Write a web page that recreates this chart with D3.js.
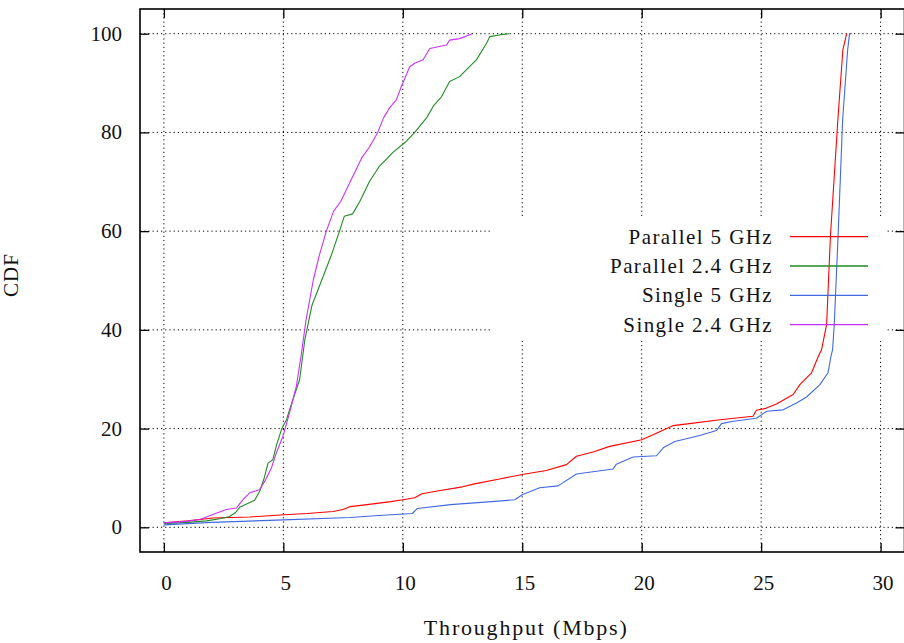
<!DOCTYPE html>
<html>
<head>
<meta charset="utf-8">
<script src="https://cdn.jsdelivr.net/npm/d3@7"></script>
<style>
  body { margin: 0; background: white; }
  text { font-family: "Liberation Serif", serif; fill: #111; }
</style>
</head>
<body>
<div id="wrapper"></div>
<script>
// values: [throughput (Mbps), CDF (%)]
const parallel5 = [
  [0, 0.9], [1, 1.3], [2.05, 1.9], [3.6, 2.1], [4.85, 2.5], [6, 2.8], [7.08, 3.2],
  [7.5, 3.6], [7.8, 4.2], [8.5, 4.6], [9.5, 5.2], [10, 5.6], [10.5, 6.0], [10.8, 6.8],
  [11.5, 7.4], [12.5, 8.2], [13, 8.8], [14.05, 9.8], [15, 10.7], [16, 11.5], [16.85, 12.7],
  [17.27, 14.4], [18, 15.3], [18.66, 16.4], [20, 17.75], [20.5, 18.8], [21.3, 20.6],
  [22, 21.0], [23.27, 21.8], [24.66, 22.5], [24.8, 23.7], [25.2, 24.1], [25.64, 25],
  [26.34, 26.9], [26.62, 28.9], [27.11, 31.3], [27.39, 34.6], [27.53, 36], [27.74, 41.1],
  [27.9, 59], [28.21, 82.5], [28.42, 96.7], [28.58, 100]
]
const parallel24 = [
  [0, 0.75], [1, 1.0], [1.78, 1.3], [2.4, 1.8], [2.75, 2.2], [3.0, 3.0], [3.17, 4.05],
  [3.8, 5.5], [4.01, 7.3], [4.2, 10], [4.36, 13], [4.56, 13.7], [4.7, 16.4], [4.92, 19.8],
  [5.13, 21.8], [5.4, 25.9], [5.68, 29.9], [5.9, 38], [6.2, 45], [6.6, 50], [7.0, 55],
  [7.35, 60], [7.55, 63], [7.9, 63.5], [8.2, 66], [8.6, 70], [9.0, 73], [9.6, 76],
  [10.1, 78], [10.5, 80], [11.0, 83], [11.3, 85.5], [11.62, 87.2], [11.96, 90.3],
  [12.38, 91.3], [12.73, 93], [13.08, 94.7], [13.5, 98], [13.64, 99.4], [14.1, 99.8], [14.45, 100]
]
const single5 = [
  [0, 0.5], [2, 1.0], [5, 1.5], [7.8, 2.0], [9, 2.4], [10.4, 2.8], [10.6, 3.8], [12, 4.6],
  [14, 5.3], [14.69, 5.6], [15, 6.6], [15.73, 8.0], [16.5, 8.4], [17.27, 10.8], [18.8, 11.8],
  [18.94, 12.8], [19.64, 14.25], [20.62, 14.5], [20.9, 16.1], [21.39, 17.4], [22.43, 18.6],
  [23.13, 19.6], [23.34, 21.0], [23.83, 21.5], [24.8, 22.1], [25.23, 23.5], [25.92, 23.8],
  [26.48, 25.2], [26.9, 26.4], [27.46, 28.9], [27.8, 31.3], [27.92, 34.6], [27.99, 36],
  [28.06, 41.1], [28.22, 59], [28.41, 82.5], [28.62, 96.7], [28.7, 100], [28.8, 100]
]
const single24 = [
  [0, 0.9], [0.94, 1.2], [1.5, 1.6], [2.05, 2.6], [2.61, 3.6], [3.03, 3.9], [3.31, 5.6],
  [3.59, 7.0], [4.0, 7.6], [4.22, 9.3], [4.5, 12], [4.7, 15], [4.98, 18.4], [5.26, 23.2],
  [5.54, 28.5], [5.75, 35], [5.95, 42], [6.25, 50], [6.5, 55], [6.8, 60], [7.1, 64],
  [7.4, 66], [7.8, 70], [8.3, 75], [8.6, 77], [8.95, 80], [9.2, 83], [9.45, 85],
  [9.73, 86.6], [9.94, 89.3], [10.29, 93.3], [10.5, 94], [10.85, 94.7], [11.13, 97],
  [11.83, 97.7], [11.96, 98.7], [12.38, 99], [12.8, 99.8], [12.9, 100]
]

const seriesNames = ["Parallel 5 GHz", "Parallel 2.4 GHz", "Single 5 GHz", "Single 2.4 GHz"]
const seriesData = [parallel5, parallel24, single5, single24]
const seriesColors = ["#ff0000", "#228b22", "#4169e1", "#c832ff"]

const xTicks = [0, 5, 10, 15, 20, 25, 30]
const yTicks = [0, 20, 40, 60, 80, 100]

function drawChart() {
  let dimensions = {
    width: 904,
    height: 643,
    margin: { top: 9, right: -0.5, bottom: 91, left: 140 },
  }
  dimensions.boundedWidth = dimensions.width - dimensions.margin.left - dimensions.margin.right
  dimensions.boundedHeight = dimensions.height - dimensions.margin.top - dimensions.margin.bottom

  const wrapper = d3.select("#wrapper")
    .append("svg")
      .attr("width", dimensions.width)
      .attr("height", dimensions.height)

  const bounds = wrapper.append("g")
    .attr("transform", `translate(${dimensions.margin.left},${dimensions.margin.top})`)

  const xScale = d3.scaleLinear()
    .domain([-1, 31])
    .range([0, dimensions.boundedWidth])
  const yScale = d3.scaleLinear()
    .domain([-5, 105])
    .range([dimensions.boundedHeight, 0])

  // grid
  bounds.append("g")
    .selectAll("line")
    .data(xTicks)
    .join("line")
      .attr("x1", d => xScale(d)).attr("x2", d => xScale(d))
      .attr("y1", 0).attr("y2", dimensions.boundedHeight)
      .attr("stroke", "#000")
      .attr("stroke-width", 1)
      .attr("stroke-dasharray", "1.2 3")
  bounds.append("g")
    .selectAll("line")
    .data(yTicks)
    .join("line")
      .attr("x1", 0).attr("x2", dimensions.boundedWidth)
      .attr("y1", d => yScale(d)).attr("y2", d => yScale(d))
      .attr("stroke", "#000")
      .attr("stroke-width", 1)
      .attr("stroke-dasharray", "1.2 3")

  // opaque key box hides the grid behind it
  const keyBox = { x: 350, y: 210, w: 395, h: 122 }
  bounds.append("rect")
    .attr("x", keyBox.x).attr("y", keyBox.y)
    .attr("width", keyBox.w).attr("height", keyBox.h)
    .attr("fill", "white")

  // ticks (inward, mirrored)
  const tickLen = 9
  const xAxisBottom = d3.axisTop(xScale).tickValues(xTicks).tickSize(tickLen).tickFormat("")
  const xAxisTop = d3.axisBottom(xScale).tickValues(xTicks).tickSize(tickLen).tickFormat("")
  const yAxisLeft = d3.axisRight(yScale).tickValues(yTicks).tickSize(tickLen).tickFormat("")
  const yAxisRight = d3.axisLeft(yScale).tickValues(yTicks).tickSize(tickLen).tickFormat("")
  const axes = [
    bounds.append("g").attr("transform", `translate(0,${dimensions.boundedHeight})`).call(xAxisBottom),
    bounds.append("g").call(xAxisTop),
    bounds.append("g").call(yAxisLeft),
    bounds.append("g").attr("transform", `translate(${dimensions.boundedWidth},0)`).call(yAxisRight),
  ]
  axes.forEach(a => {
    a.select(".domain").remove()
    a.selectAll(".tick line").attr("stroke", "#000").attr("stroke-width", 1.3)
  })

  // tick labels
  bounds.append("g")
    .selectAll("text")
    .data(xTicks)
    .join("text")
      .attr("x", d => xScale(d) + 2.5)
      .attr("y", dimensions.boundedHeight + 38)
      .attr("text-anchor", "middle")
      .style("font-size", "21px")
      .text(d => d)
  bounds.append("g")
    .selectAll("text")
    .data(yTicks)
    .join("text")
      .attr("x", -18)
      .attr("y", d => yScale(d) + 7)
      .attr("text-anchor", "end")
      .style("font-size", "21px")
      .text(d => d)

  // data
  const lineGenerator = d3.line()
    .x(d => xScale(d[0]))
    .y(d => yScale(d[1]))
  bounds.append("g")
    .selectAll("path")
    .data(seriesData)
    .join("path")
      .attr("d", d => lineGenerator(d))
      .attr("fill", "none")
      .attr("stroke", (d, i) => seriesColors[i])
      .attr("stroke-width", 1.1)
      .attr("stroke-linejoin", "round")

  // key
  const keyRows = bounds.append("g")
    .selectAll("g")
    .data(seriesNames)
    .join("g")
      .attr("transform", (d, i) => `translate(0,${227.7 + i * 29.3})`)
  keyRows.append("text")
    .attr("x", 633)
    .attr("y", 7)
    .attr("text-anchor", "end")
    .style("font-size", "21px")
    .style("letter-spacing", "1.4px")
    .text(d => d)
  keyRows.append("line")
    .attr("x1", 650).attr("x2", 728)
    .attr("y1", 0).attr("y2", 0)
    .attr("stroke", (d, i) => seriesColors[i])
    .attr("stroke-width", 1.3)

  // border
  bounds.append("rect")
    .attr("width", dimensions.boundedWidth)
    .attr("height", dimensions.boundedHeight)
    .attr("fill", "none")
    .attr("stroke", "#000")
    .attr("stroke-width", 1.6)

  // axis titles
  bounds.append("text")
    .attr("x", (dimensions.boundedWidth) / 2 + 4)
    .attr("y", dimensions.boundedHeight + 83)
    .attr("text-anchor", "middle")
    .style("font-size", "22px")
    .style("letter-spacing", "1.8px")
    .text("Throughput (Mbps)")
  wrapper.append("text")
    .attr("transform", `translate(18,275) rotate(-90)`)
    .attr("text-anchor", "middle")
    .style("font-size", "21px")
    .style("letter-spacing", "1px")
    .text("CDF")
}

drawChart()
</script>
</body>
</html>
